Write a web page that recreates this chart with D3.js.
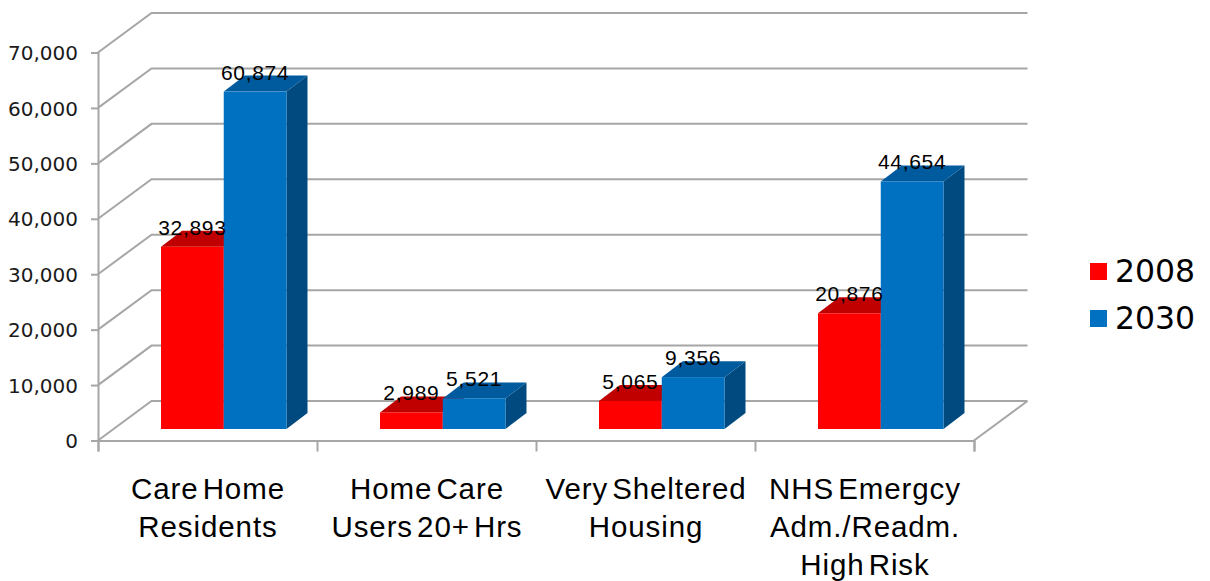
<!DOCTYPE html>
<html>
<head>
<meta charset="utf-8">
<script src="https://cdn.jsdelivr.net/npm/d3@7"></script>
<style>
	html, body { margin: 0; padding: 0; background: #fff; overflow: hidden; }
	svg { display: block; }
	text { fill: #000; }
	.tick-label { font: 20px "DejaVu Sans"; fill: #1a1a1a; }
	.value-label { font: 21px "Liberation Sans"; letter-spacing: 0.7px; }
	.cat-label { font: 29.5px "Liberation Sans"; letter-spacing: 0.9px; word-spacing: -5px; }
	.legend-label { font: 31.5px "DejaVu Sans"; }
</style>
</head>
<body>
<svg id="chart" width="1210" height="581"></svg>
<script>
const categories = [
	["Care Home", "Residents"],
	["Home Care", "Users 20+ Hrs"],
	["Very Sheltered", "Housing"],
	["NHS Emergcy", "Adm./Readm.", "High Risk"]
];
const years = ["2008", "2030"];
const values2008 = [32893, 2989, 5065, 20876];
const values2030 = [60874, 5521, 9356, 44654];
const yTicks = [0, 10000, 20000, 30000, 40000, 50000, 60000, 70000];

const colors = [
	{ front: "#ff0000", top: "#c00000", side: "#a00000" },
	{ front: "#0070c0", top: "#005a9e", side: "#004a80" }
];
const gridColor = "#a6a6a6";

const svg = d3.select("#chart");

const x = d3.scaleBand()
	.domain(d3.range(categories.length))
	.range([98, 974]);
const xBars = d3.scaleBand()
	.domain(d3.range(years.length))
	.range([0, 125.5]);
const y = d3.scaleLinear()
	.domain([0, 70000])
	.range([440.5, 52.5]);

// depth of the walls and of the bars, in screen pixels
const wallDx = 53.5, wallDy = -39.5;
const barDx = 21, barDy = -16;
const barInset = 63, floorLift = 11.5;

function drawWalls(g) {
	const walls = g.append("g").attr("class", "walls");
	walls.selectAll(".grid")
		.data(yTicks)
		.enter()
		.append("polyline")
		.attr("class", "grid")
		.attr("points", d => {
			const x0 = x.range()[0], yv = y(d);
			return `${x0},${yv} ${x0 + wallDx},${yv + wallDy} ${x.range()[1] + wallDx},${yv + wallDy}`;
		})
		.attr("fill", "none")
		.attr("stroke", gridColor)
		.attr("stroke-width", 2);
	// right edge of the floor
	walls.append("line")
		.attr("x1", x.range()[1])
		.attr("y1", y(0))
		.attr("x2", x.range()[1] + wallDx)
		.attr("y2", y(0) + wallDy)
		.attr("stroke", gridColor)
		.attr("stroke-width", 2);
}

function drawAxes(g) {
	const yAxis = d3.axisLeft(y)
		.tickValues(yTicks)
		.tickFormat(d3.format(","))
		.tickSize(7)
		.tickPadding(13);
	const yGroup = g.append("g")
		.attr("transform", `translate(${x.range()[0]},0)`)
		.call(yAxis);
	yGroup.selectAll("text").attr("class", "tick-label").attr("dy", "0.36em");

	const boundaries = d3.scaleLinear()
		.domain([0, categories.length])
		.range(x.range());
	const xAxis = d3.axisBottom(boundaries)
		.ticks(categories.length)
		.tickFormat("")
		.tickSize(11)
		.tickSizeOuter(11);
	const xGroup = g.append("g")
		.attr("transform", `translate(0,${y(0)})`)
		.call(xAxis);

	[yGroup, xGroup].forEach(a => {
		a.selectAll("path, line")
			.attr("stroke", gridColor)
			.attr("stroke-width", 2);
		a.select(".domain").attr("fill", "none");
	});
}

function drawSeries(g, values, s) {
	const barW = xBars.bandwidth();
	const left = (_, i) => x(i) + barInset + xBars(s);
	const topY = d => y(d) - floorLift;
	const base = y(0) - floorLift;
	const series = g.append("g").attr("class", `series-${years[s]}`);

	series.selectAll(".side")
		.data(values)
		.enter()
		.append("path")
		.attr("class", "side")
		.attr("fill", colors[s].side)
		.attr("d", (d, i) => {
			const l = left(d, i) + barW;
			return `M${l},${topY(d)}L${l + barDx},${topY(d) + barDy}L${l + barDx},${base + barDy}L${l},${base}Z`;
		});
	series.selectAll(".top")
		.data(values)
		.enter()
		.append("path")
		.attr("class", "top")
		.attr("fill", colors[s].top)
		.attr("d", (d, i) => {
			const l = left(d, i), t = topY(d);
			return `M${l},${t}L${l + barDx},${t + barDy}L${l + barW + barDx},${t + barDy}L${l + barW},${t}Z`;
		});
	series.selectAll(".front")
		.data(values)
		.enter()
		.append("rect")
		.attr("class", "front")
		.attr("fill", colors[s].front)
		.attr("x", left)
		.attr("y", topY)
		.attr("width", barW)
		.attr("height", d => base - topY(d));
}

function drawValueLabels(g, values, s) {
	g.append("g").selectAll("text")
		.data(values)
		.enter()
		.append("text")
		.attr("class", "value-label")
		.attr("text-anchor", "middle")
		.attr("x", (_, i) => x(i) + barInset + xBars(s) + xBars.bandwidth() / 2)
		.attr("y", d => y(d) - floorLift - 12)
		.text(d3.format(","));
}

function drawCategoryLabels(g) {
	const labels = g.append("g").selectAll("text")
		.data(categories)
		.enter()
		.append("text")
		.attr("class", "cat-label")
		.attr("text-anchor", "middle")
		.attr("y", 499);
	labels.selectAll("tspan")
		.data((d, i) => d.map(line => ({ line, i })))
		.enter()
		.append("tspan")
		.attr("x", d => x(d.i) + x.bandwidth() / 2 + 0.5)
		.attr("dy", (_, j) => j ? 38 : 0)
		.text(d => d.line);
}

function drawLegend(g) {
	const legendY = d3.scalePoint().domain(years).range([263, 310]);
	const item = g.append("g").selectAll("g")
		.data(years)
		.enter()
		.append("g")
		.attr("transform", d => `translate(1090,${legendY(d)})`);
	item.append("rect")
		.attr("width", 17)
		.attr("height", 17)
		.attr("fill", (_, i) => colors[i].front);
	item.append("text")
		.attr("class", "legend-label")
		.attr("x", 25)
		.attr("y", 18.5)
		.text(d => d);
}

drawWalls(svg);
drawAxes(svg);
drawSeries(svg, values2008, 0);
drawSeries(svg, values2030, 1);
drawValueLabels(svg, values2008, 0);
drawValueLabels(svg, values2030, 1);
drawCategoryLabels(svg);
drawLegend(svg);
</script>
</body>
</html>
